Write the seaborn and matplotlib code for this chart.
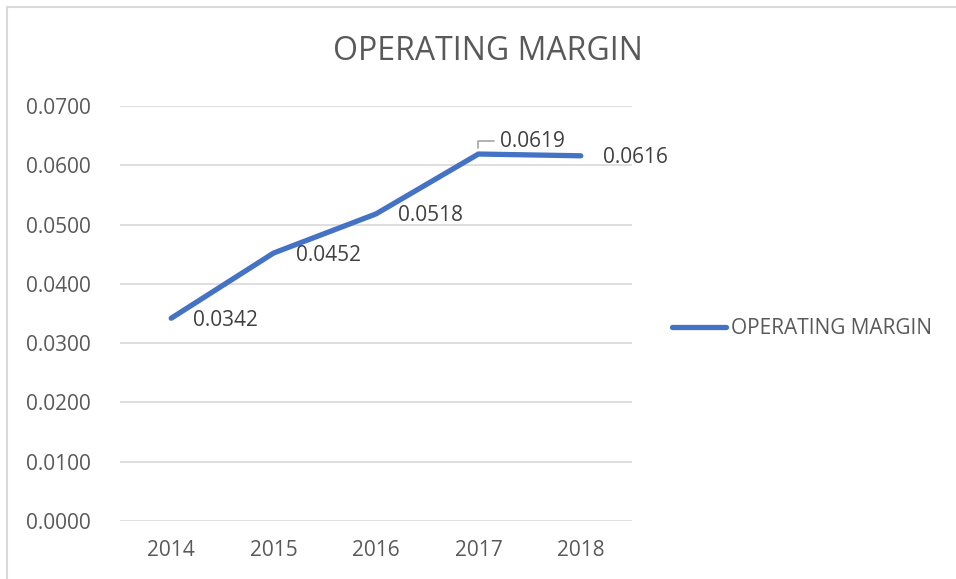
import pandas as pd
import matplotlib.pyplot as plt
import seaborn as sns
from matplotlib.patches import Rectangle

years = ['2014', '2015', '2016', '2017', '2018']
margin = [0.0342, 0.0452, 0.0518, 0.0619, 0.0616]
labels = ['0.0342', '0.0452', '0.0518', '0.0619', '0.0616']
yticks = [0.0, 0.01, 0.02, 0.03, 0.04, 0.05, 0.06, 0.07]

df = pd.DataFrame({'year': years, 'margin': margin})

sns.set_style('white')
plt.rcParams['font.family'] = ['Open Sans', 'DejaVu Sans']

grey = '#595959'
blue = '#4472C4'

fig = plt.figure(figsize=(9.56, 5.79), dpi=100)
ax = fig.add_axes([120 / 956, 58 / 579, 512 / 956, 415 / 579])

sns.lineplot(data=df, x='year', y='margin', ax=ax, color=blue, linewidth=3.8,
             solid_capstyle='round', solid_joinstyle='round', label='OPERATING MARGIN',
             legend=False)

ax.set_xlim(-0.5, 4.5)
ax.set_ylim(0, 0.07)
ax.set_yticks(yticks)
ax.set_yticklabels([f'{v:.4f}' for v in yticks])
ax.yaxis.grid(True, color='#D9D9D9', linewidth=1.2)
ax.set_axisbelow(True)
for s in ax.spines.values():
    s.set_visible(False)
ax.tick_params(axis='y', length=0, pad=21, labelsize=15, labelcolor=grey)
ax.tick_params(axis='x', length=0, pad=14, labelsize=15, labelcolor=grey)
ax.set_xlabel('')
ax.set_ylabel('')

# data labels (Excel style, right of point)
for i, (v, t) in enumerate(zip(margin, labels)):
    if t == '0.0619':
        ax.annotate(t, xy=(i, v), xytext=(22, 13), textcoords='offset pixels',
                    ha='left', va='center', fontsize=15, color='#404040',
                    arrowprops=dict(arrowstyle='-', color='#A6A6A6', lw=1.2,
                                    connectionstyle='angle,angleA=0,angleB=90,rad=0',
                                    shrinkA=2, shrinkB=4, relpos=(0, 0.5)))
    else:
        ax.annotate(t, xy=(i, v), xytext=(22, -2), textcoords='offset pixels',
                    ha='left', va='center', fontsize=15, color='#404040')

fig.text(488 / 956, 1 - 52 / 579, 'OPERATING MARGIN', ha='center', va='center',
         fontsize=23, color=grey)

handles, lbls = ax.get_legend_handles_labels()
fig.legend(handles, lbls, loc='center left', bbox_to_anchor=(672 / 956, 1 - 329 / 579),
           frameon=False, fontsize=15, labelcolor=grey, borderpad=0, borderaxespad=0,
           handlelength=2.6, handletextpad=0.25)

# chart area border (only top/left visible in the crop)
fig.patches.append(Rectangle((7 / 956, -0.1), 1.2, 1.1 - 7 / 579, transform=fig.transFigure,
                             fill=False, edgecolor='#D9D9D9', linewidth=1.5))

fig.savefig('out.png', dpi=100)
